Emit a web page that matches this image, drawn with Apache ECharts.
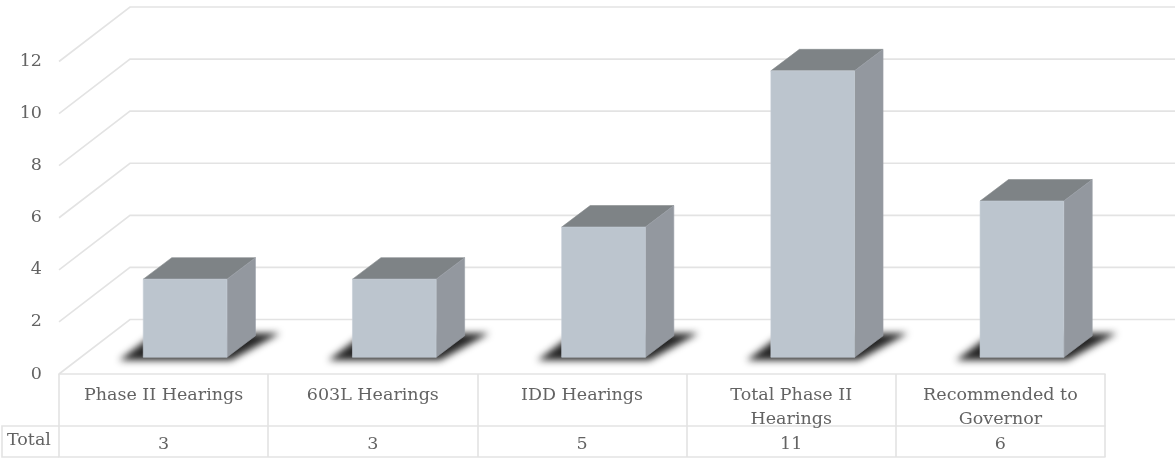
<!DOCTYPE html>
<html><head><meta charset="utf-8">
<style>html,body{margin:0;padding:0;background:#fff}#c{width:1175px;height:458px}</style>
<script src="https://cdn.jsdelivr.net/npm/echarts@6/dist/echarts.min.js"></script>
</head><body><div id="c"></div>
<script>
const categories = ['Phase II Hearings','603L Hearings','IDD Hearings','Total Phase II\nHearings','Recommended to\nGovernor'];
const values = [3,3,5,11,6];
const yTicks = [0,2,4,6,8,10,12];
const rowTitle = 'Total';

const FONT = '"DejaVu Serif"';
const FS = 17.5;
const TXT = '#636363', GRID = '#e3e3e3';
const chart = echarts.init(document.getElementById('c'), null, {renderer:'canvas'});

function renderWall(params, api){
  const v = api.value(0);
  const p = api.coord([0, v]);
  const full = api.size([1,0])[0];
  const x0 = p[0]-full/2, y0 = p[1];
  const xEnd = x0 + full*5;
  return {type:'polyline', silent:true,
    shape:{points:[[x0,y0],[x0+71,y0-54.5],[xEnd+71,y0-54.5]]},
    style:{stroke:GRID,lineWidth:1.6,fill:null}};
}
function renderBar(params, api){
  const i = api.value(0), v = api.value(1);
  const b = api.coord([i,0]), t = api.coord([i,v]);
  const hw = api.size([1,0])[0]*0.2;
  const L = b[0]+21.5-hw, R = b[0]+21.5+hw, B = b[1]-16.7, T = t[1]-16.7;
  const dx = 28.5, dy = 21.5;
  const SH = 3000; // the floor shadow's blur is all that is painted
  return {type:'group', children:[
    {type:'polygon', silent:true,
      shape:{points:[[L-24-SH,B+3],[R+4-SH,B+3],[R+53-SH,B-24],[L+12-SH,B-24]]},
      style:{fill:'#000',shadowBlur:7,shadowColor:'rgba(25,25,25,0.95)',shadowOffsetX:SH}},
    {type:'polygon', silent:true,
      shape:{points:[[L,T],[L+dx,T-dy],[R+dx,T-dy],[R,T]]},
      style:{fill:'#7e8386',stroke:'#84898c',lineWidth:0.6}},
    {type:'polygon', silent:true,
      shape:{points:[[R,T],[R+dx,T-dy],[R+dx,B-dy],[R,B]]},
      style:{fill:'#93989f',stroke:'#9aa0a7',lineWidth:0.6}},
    {type:'rect', silent:true,
      shape:{x:L,y:T,width:R-L,height:B-T},
      style:{fill:'#bcc5ce',stroke:'#c6ced6',lineWidth:0.6}}
  ]};
}

const lineStyle = {color:GRID,width:1.6};
chart.setOption({
  animation:false,
  backgroundColor:'#fff',
  grid:{left:59,top:61.5,width:1046,height:312.5,containLabel:false},
  xAxis:[
    {type:'category',data:categories,position:'bottom',
      axisLine:{show:true,lineStyle},axisTick:{show:true,length:52,lineStyle,alignWithLabel:false},
      axisLabel:{interval:0,color:TXT,fontFamily:FONT,fontSize:FS,lineHeight:24,margin:9,verticalAlign:'top'},
      splitLine:{show:false}},
    {type:'category',data:values.map(String),position:'bottom',offset:52,
      axisLine:{show:true,lineStyle},axisTick:{show:true,length:31,lineStyle},
      axisLabel:{interval:0,color:TXT,fontFamily:FONT,fontSize:FS,margin:8,verticalAlign:'top',lineHeight:20},
      splitLine:{show:false}},
    {type:'category',data:values.map(String),position:'bottom',offset:83,
      axisLine:{show:true,lineStyle},axisTick:{show:false},axisLabel:{show:false},splitLine:{show:false}}
  ],
  yAxis:{type:'value',min:0,max:12,interval:2,
    axisLine:{show:false},axisTick:{show:false},splitLine:{show:false},
    axisLabel:{color:TXT,fontFamily:FONT,fontSize:FS,margin:17}},
  graphic:[
    {type:'polyline',silent:true,shape:{points:[[59,426],[2,426],[2,457],[59,457]]},style:{stroke:GRID,lineWidth:1.6,fill:null}},
    {type:'text',silent:true,style:{text:rowTitle,x:7,y:431,fill:TXT,font:'17.5px "DejaVu Serif"'}}
  ],
  series:[
    {type:'custom',name:'walls',coordinateSystem:'cartesian2d',clip:false,z:1,silent:true,
      data:yTicks.map(v=>[v]),encode:{y:0},renderItem:renderWall},
    {type:'custom',name:'Total',coordinateSystem:'cartesian2d',clip:false,z:3,silent:true,
      data:values.map((v,i)=>[i,v]),encode:{x:0,y:1},renderItem:renderBar}
  ]
});
</script></body></html>
